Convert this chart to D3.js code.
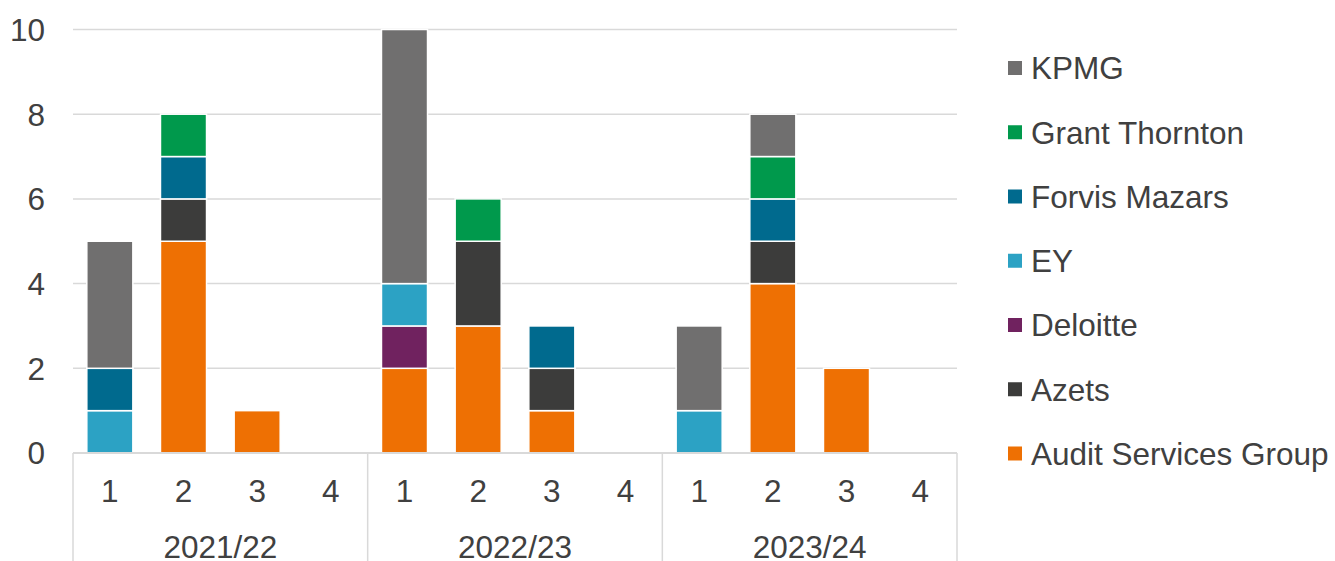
<!DOCTYPE html>
<html>
<head>
<meta charset="utf-8">
<script src="https://cdn.jsdelivr.net/npm/d3@7"></script>
<style>
  html, body { margin: 0; padding: 0; background: #ffffff; }
  svg { display: block; }
  text { font-family: "Liberation Sans", Arial, sans-serif; fill: #404040; }
</style>
</head>
<body>
<svg id="chart" width="1335" height="561"></svg>
<script>
// ---- Data ----
const years = ["2021/22", "2022/23", "2023/24"];
const quarters = ["1", "2", "3", "4"];
const seriesNames = ["Audit Services Group", "Azets", "Deloitte", "EY", "Forvis Mazars", "Grant Thornton", "KPMG"];
const seriesColors = ["#EE7003", "#3C3C3B", "#70225F", "#2CA2C4", "#006A8E", "#00994C", "#706F6F"];
// values per category (12 = 3 years x 4 quarters)
const auditServicesGroup = [0, 5, 1, 0, 2, 3, 1, 0, 0, 4, 2, 0];
const azets              = [0, 1, 0, 0, 0, 2, 1, 0, 0, 1, 0, 0];
const deloitte           = [0, 0, 0, 0, 1, 0, 0, 0, 0, 0, 0, 0];
const ey                 = [1, 0, 0, 0, 1, 0, 0, 0, 1, 0, 0, 0];
const forvisMazars       = [1, 1, 0, 0, 0, 0, 1, 0, 0, 1, 0, 0];
const grantThornton      = [0, 1, 0, 0, 0, 1, 0, 0, 0, 1, 0, 0];
const kpmg               = [3, 0, 0, 0, 6, 0, 0, 0, 2, 1, 0, 0];
const yTicks = [0, 2, 4, 6, 8, 10];

const seriesValues = [auditServicesGroup, azets, deloitte, ey, forvisMazars, grantThornton, kpmg];

// ---- Build table ----
const cats = [];
years.forEach(y => quarters.forEach(q => cats.push(y + "|" + q)));
const table = cats.map((c, i) => {
  const row = { cat: c };
  seriesNames.forEach((s, j) => row[s] = seriesValues[j][i]);
  return row;
});

const svg = d3.select("#chart");
const plotLeft = 73, plotRight = 957, plotTop = 29.5, plotBottom = 453;
const fontSize = "31.5px";

const x = d3.scaleBand().domain(cats).range([plotLeft, plotRight]).paddingInner(0.375).paddingOuter(0.1875);
const y = d3.scaleLinear().domain([0, 10]).range([plotBottom, plotTop]);
const color = d3.scaleOrdinal().domain(seriesNames).range(seriesColors);

// gridlines
svg.append("g").selectAll("line").data(yTicks.filter(t => t > 0)).join("line")
  .attr("x1", plotLeft).attr("x2", plotRight)
  .attr("y1", d => y(d)).attr("y2", d => y(d))
  .attr("stroke", "#d9d9d9").attr("stroke-width", 1.5);

// y tick labels
svg.append("g").selectAll("text").data(yTicks).join("text")
  .attr("x", 45).attr("y", d => y(d)).attr("dy", "0.36em")
  .attr("text-anchor", "end").style("font-size", fontSize)
  .text(d => d);

// stacked bars
const stack = d3.stack().keys(seriesNames)(table);
svg.append("g").selectAll("g").data(stack).join("g")
  .attr("fill", d => color(d.key))
  .selectAll("rect").data(d => d.filter(p => p[1] - p[0] > 0)).join("rect")
  .attr("x", d => x(d.data.cat))
  .attr("width", x.bandwidth())
  .attr("y", d => y(d[1]))
  .attr("height", d => y(d[0]) - y(d[1]))
  .attr("stroke", "#ffffff").attr("stroke-width", 1.5);

// x axis line
svg.append("line").attr("x1", plotLeft).attr("x2", plotRight)
  .attr("y1", plotBottom).attr("y2", plotBottom)
  .attr("stroke", "#d9d9d9").attr("stroke-width", 2);

// group separators
const step = x.step();
const groupEdges = d3.range(years.length + 1).map(i => plotLeft + i * quarters.length * step);
svg.append("g").selectAll("line").data(groupEdges).join("line")
  .attr("x1", d => d).attr("x2", d => d)
  .attr("y1", plotBottom).attr("y2", 561)
  .attr("stroke", "#d9d9d9").attr("stroke-width", 1.5);

// quarter labels
svg.append("g").selectAll("text").data(cats).join("text")
  .attr("x", d => x(d) + x.bandwidth() / 2).attr("y", 491).attr("dy", "0.36em")
  .attr("text-anchor", "middle").style("font-size", fontSize)
  .text(d => d.split("|")[1]);

// year labels
svg.append("g").selectAll("text").data(years).join("text")
  .attr("x", (d, i) => (groupEdges[i] + groupEdges[i + 1]) / 2).attr("y", 547).attr("dy", "0.36em")
  .attr("text-anchor", "middle").style("font-size", fontSize)
  .text(d => d);

// legend (reverse order, KPMG on top)
const legendNames = seriesNames.slice().reverse();
const lg = svg.append("g").selectAll("g").data(legendNames).join("g")
  .attr("transform", (d, i) => `translate(1008, ${68 + i * 64.25})`);
lg.append("rect").attr("x", 0).attr("y", -7).attr("width", 14).attr("height", 14)
  .attr("fill", d => color(d));
lg.append("text").attr("x", 23).attr("y", 0).attr("dy", "0.36em")
  .style("font-size", fontSize).text(d => d);
</script>
</body>
</html>
